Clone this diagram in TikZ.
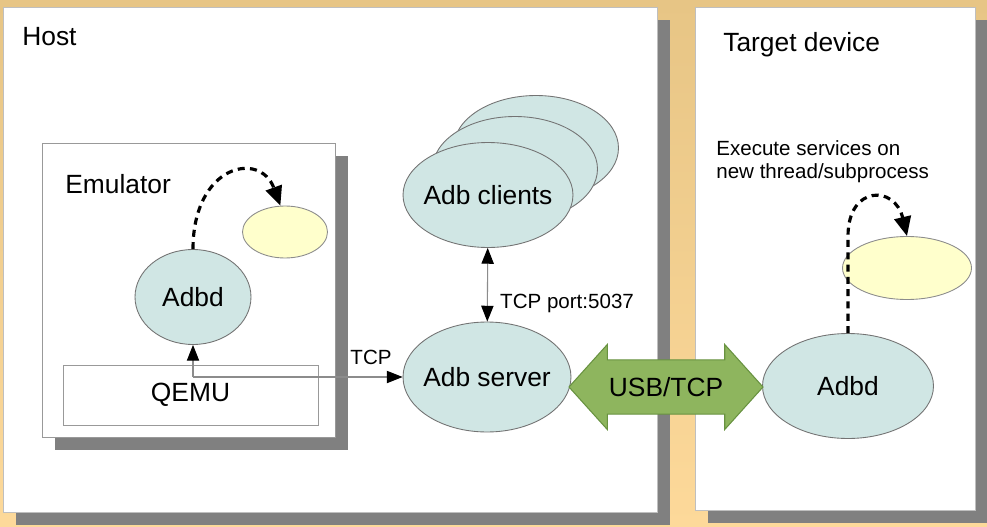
\documentclass[tikz,border=0pt]{standalone}
\usepackage{fontspec}
\setmainfont{Liberation Sans}
\usetikzlibrary{shapes.geometric, shapes.arrows, arrows.meta, positioning, calc, shadows}
\definecolor{bgtop}{RGB}{231, 197, 133}
\definecolor{bgbottom}{RGB}{253, 217, 154}
\definecolor{shadowgray}{RGB}{128, 128, 128}
\definecolor{procteal}{RGB}{208, 230, 228}
\definecolor{threadyellow}{RGB}{255, 255, 204}
\definecolor{linkgreen}{RGB}{142, 181, 94}
\definecolor{darkgreen}{RGB}{104, 146, 64}
\newcommand{\bigfont}{\fontsize{15}{18}\selectfont}
\newcommand{\smallfont}{\fontsize{11.7}{13.3}\selectfont}
\tikzset{
  panel/.style={draw=black!25, fill=white, line width=0.5pt, inner sep=0pt,
    drop shadow={shadow xshift=0.26cm, shadow yshift=-0.26cm, fill=shadowgray, opacity=1}},
  plain/.style={inner sep=0pt, font=\bigfont},
  note/.style={inner sep=0pt, font=\smallfont},
  proc/.style={ellipse, draw=black!55, fill=procteal, line width=0.5pt, inner sep=0pt,
    label={[plain]center:#1}},
  proc/.default={},
  thread/.style={ellipse, draw=black!45, fill=threadyellow, line width=0.5pt, inner sep=0pt},
  thinlink/.style={draw=black!45, line width=0.6pt},
  spawn/.style={line width=1.8pt, dash pattern=on 4pt off 3pt, -{Triangle[length=11pt, width=9.5pt]}}
}

\begin{document}
\begin{tikzpicture}[x=0.02cm, y=-0.02cm, >={Triangle[length=9pt, width=7pt, color=black]}]
    % background
    \shade[top color=bgtop, bottom color=bgbottom] (0,0) rectangle (987,527);
    \useasboundingbox (0,0) rectangle (987,527);

    % panels
    \node[panel, minimum width=13.08cm, minimum height=10.1cm] (host) at (330,259.5) {};
    \node[panel, minimum width=5.6cm, minimum height=10.06cm] (target) at (835,258.5) {};
    \node[plain, anchor=west] (hostlabel) at (22,37) {Host};
    \node[plain, anchor=west] (targetlabel) at (723,45) {Target device};

    % emulator
    \node[panel, draw=black!40, minimum width=5.86cm, minimum height=5.88cm] (emu) at (188.5,290) {};
    \node[plain, anchor=west] (emulabel) at (65,184) {Emulator};
    \node[draw=black!40, line width=0.5pt, fill=white, minimum width=5.1cm, minimum height=1.2cm,
          font=\bigfont] (qemu) at (190.5,395) {QEMU};
    \node[proc=Adbd, minimum width=2.32cm, minimum height=1.9cm] (emuadbd) at (193,297) {};
    \node[thread, minimum width=1.7cm, minimum height=1.04cm] (emuthread) at (285,232) {};

    % adb server and clients
    \node[proc, minimum width=3.3cm, minimum height=2.1cm] (clients3) at (536,148) {};
    \node[proc, minimum width=3.3cm, minimum height=2.1cm] (clients2) at (515,169) {};
    \node[proc=Adb clients, minimum width=3.4cm, minimum height=2.1cm] (clients) at (488,195) {};
    \node[proc=Adb server, minimum width=3.36cm, minimum height=2.2cm] (server) at (487,377) {};

    % target device
    \node[proc=Adbd, minimum width=3.42cm, minimum height=2.1cm] (tadbd) at (848,386) {};
    \node[thread, minimum width=2.58cm, minimum height=1.26cm] (tthread) at (907,268) {};
    \node[note, anchor=west, align=left] (tnote) at (716,161.5) {Execute services on\\new thread/subprocess};

    % usb link
    \node[double arrow, draw=darkgreen, fill=linkgreen, line width=0.6pt, font=\bigfont,
          text height=10.8pt, text depth=0pt, inner xsep=2pt, inner ysep=6.8pt,
          minimum height=3.88cm, minimum width=1.7cm, double arrow tip angle=96,
          double arrow head indent=0pt] (usb) at (666,387) {USB/TCP};

    % connections
    \coordinate (qtap) at (emuadbd |- server);
    \draw[thinlink, ->] (qtap) -- (emuadbd);
    \draw[thinlink, ->] (qtap) -- (server);
    \node[note, anchor=south] (tcplabel) at (371,365) {TCP};
    \draw[thinlink, <->] (clients) -- (server)
        node[note, pos=0.75, right=7pt] (portlabel) {TCP port:5037};

    % spawned threads
    \draw[spawn] (emuadbd.north) .. controls (193,165) and (260,150) .. (emuthread.100);
    \coordinate (trise) at (tadbd.north |- tthread.north);
    \draw[spawn] (tadbd.north) -- (trise) .. controls (848,185) and (895,185) .. (tthread.north);
\end{tikzpicture}
\end{document}
